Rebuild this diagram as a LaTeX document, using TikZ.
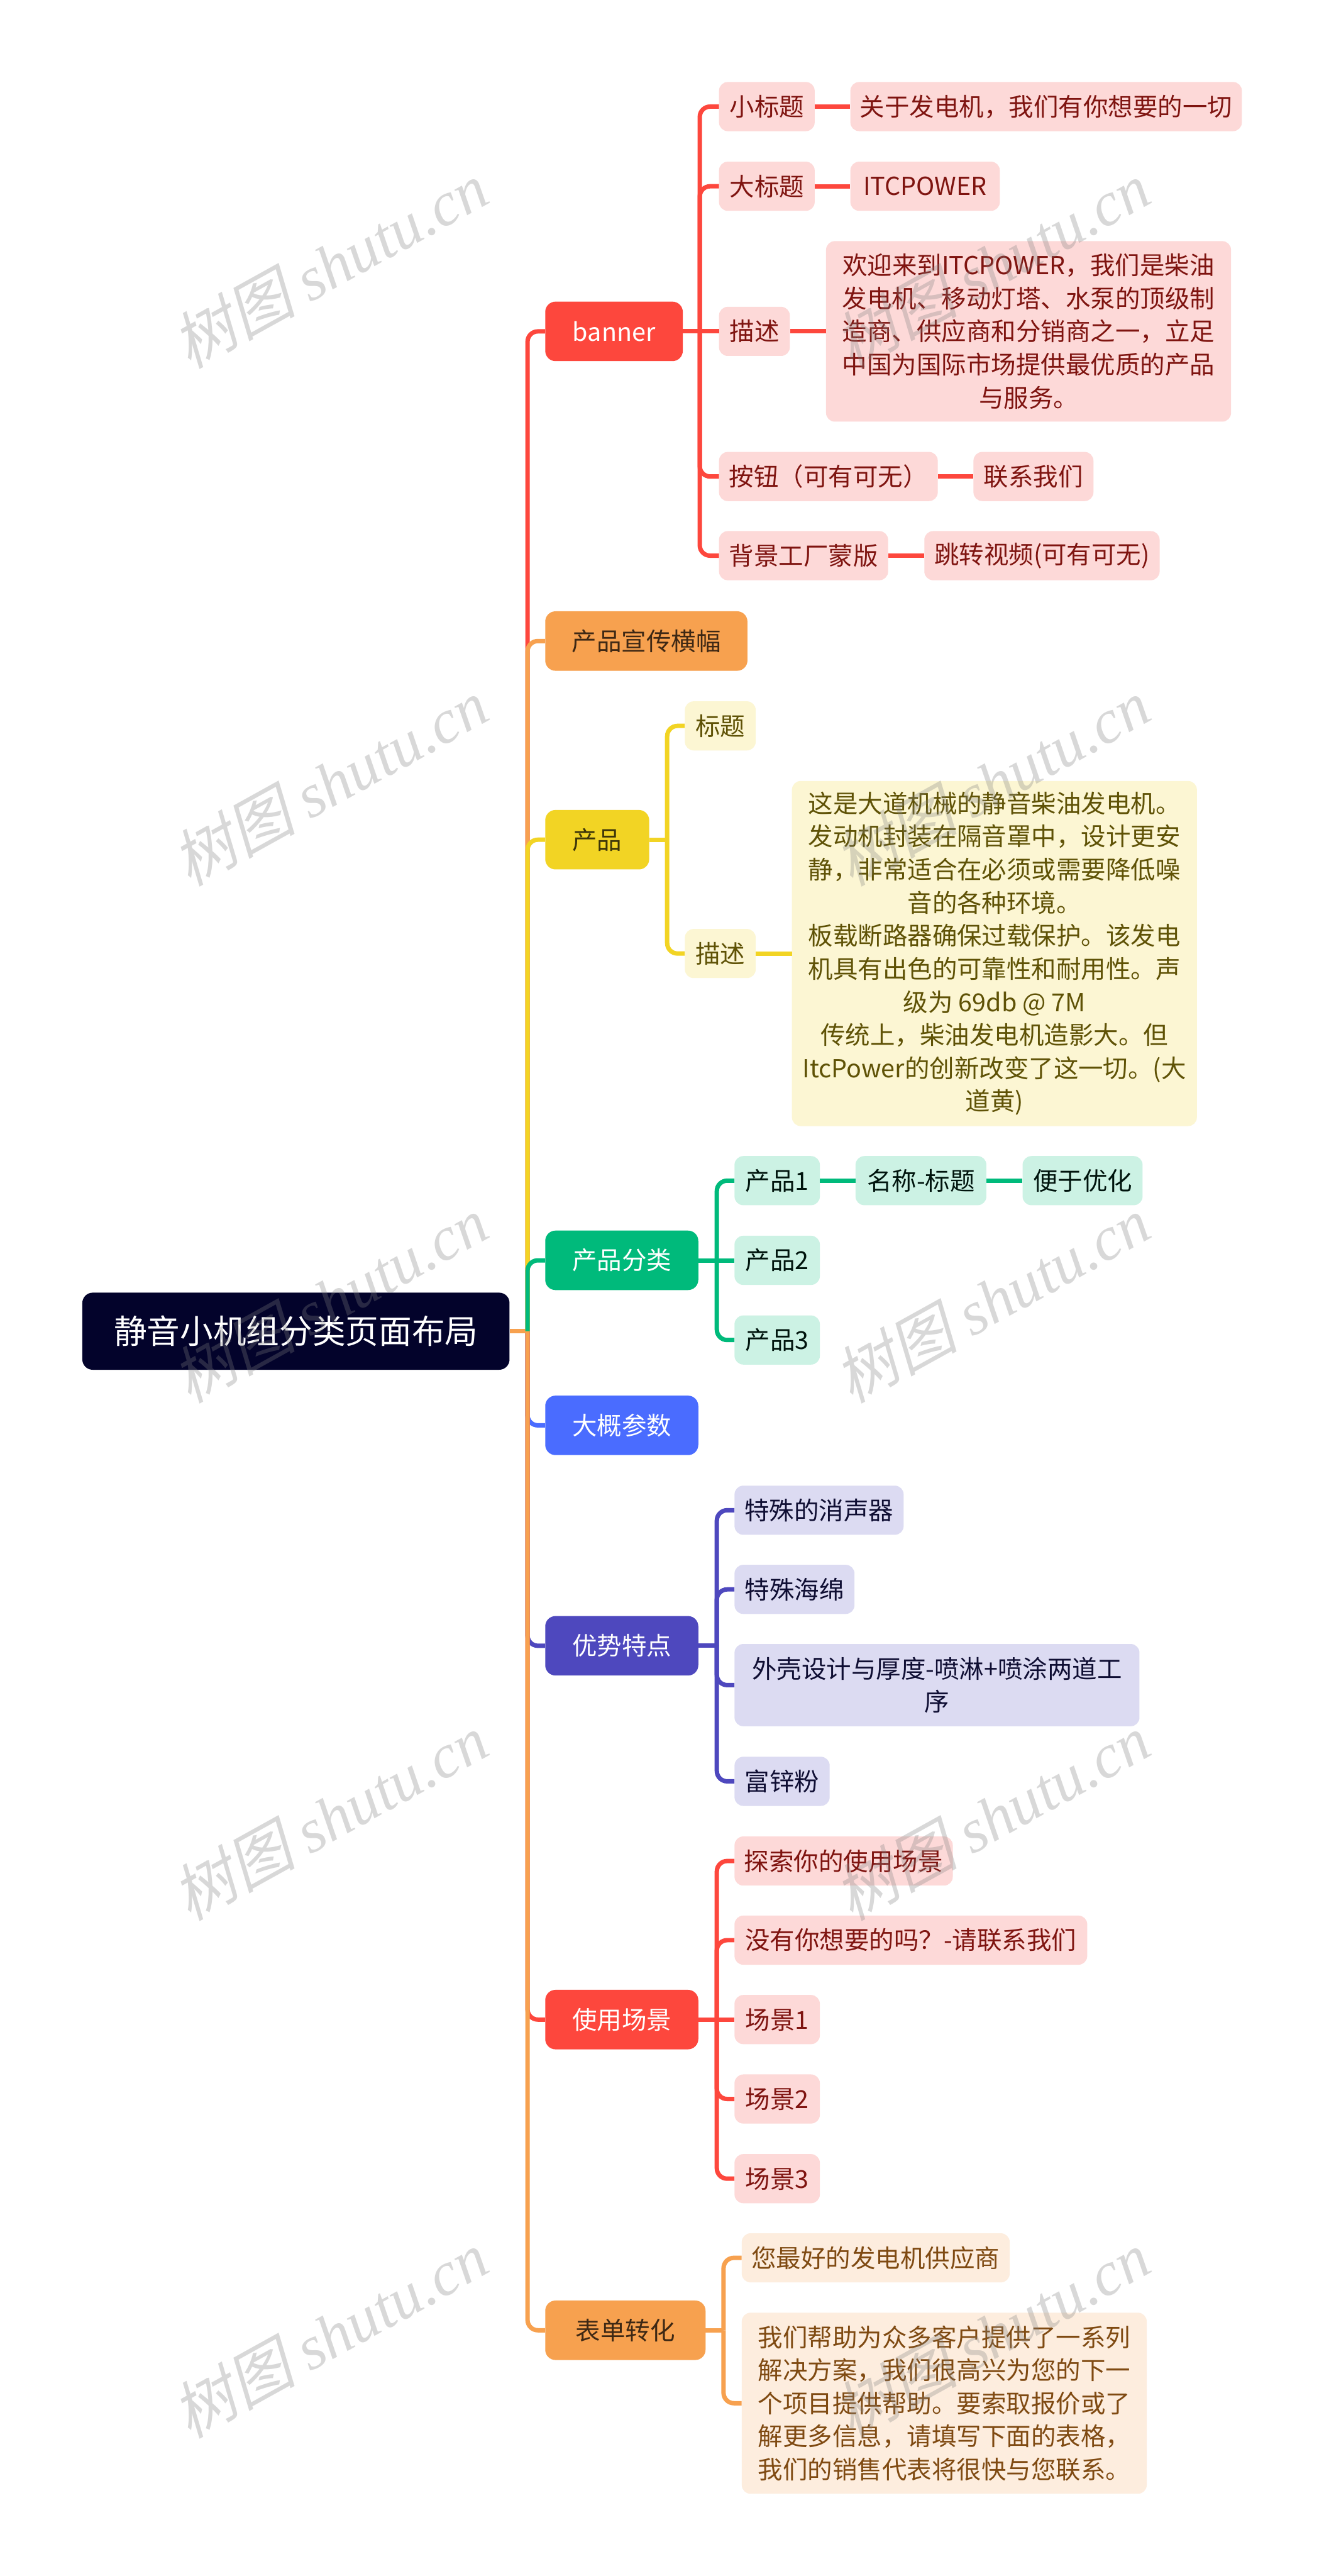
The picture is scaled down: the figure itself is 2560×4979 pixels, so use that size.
\documentclass[tikz,border=0pt]{standalone}
\usepackage{fontspec}
\setmainfont{Noto Sans CJK SC}
\newfontfamily\wmlatin{Liberation Serif}
\newfontfamily\wmcjk[FakeSlant=0.22]{Noto Sans CJK SC}
\definecolor{cred}{HTML}{FD473D}
\definecolor{cori}{HTML}{F7A14F}
\definecolor{cyel}{HTML}{F2D424}
\definecolor{cgrn}{HTML}{00BA7B}
\definecolor{cblu}{HTML}{4A6CFF}
\definecolor{cind}{HTML}{4E48BE}
\definecolor{lred}{HTML}{FDD9D8}
\definecolor{lyel}{HTML}{FCF6D3}
\definecolor{lgrn}{HTML}{CCF2E4}
\definecolor{lind}{HTML}{DCDBF2}
\definecolor{lori}{HTML}{FDEDDE}
\definecolor{tred}{HTML}{7F1410}
\definecolor{tyel}{HTML}{5F5206}
\definecolor{tgrn}{HTML}{00140D}
\definecolor{tind}{HTML}{0F0E33}
\definecolor{tori}{HTML}{7F4A12}
\definecolor{croot}{HTML}{03032B}
\tikzset{
  base/.style={anchor=west,inner sep=0pt,font=\fontsize{48}{64}\selectfont,align=center},
  rootbox/.style={base,fill=croot,text=white,rounded corners=20pt,font=\fontsize{64}{84}\selectfont},
  prim/.style={base,rounded corners=20pt,minimum height=115},
  redsec/.style={base,fill=lred,text=tred,rounded corners=17pt},
  yelsec/.style={base,fill=lyel,text=tyel,rounded corners=17pt},
  grnsec/.style={base,fill=lgrn,text=tgrn,rounded corners=17pt},
  indsec/.style={base,fill=lind,text=tind,rounded corners=17pt},
  orisec/.style={base,fill=lori,text=tori,rounded corners=17pt},
  conn/.style={line width=8.5pt,rounded corners=20pt,line cap=butt},
  wmark/.style={text=gray,text opacity=0.3,rotate=29,inner sep=0pt}
}
\begin{document}
\begin{tikzpicture}[x=1pt,y=-1pt]
\fill[white] (0,0) rectangle (2560,4979);
\useasboundingbox (0,0) rectangle (2560,4979);
% root
\node[rootbox,minimum width=826,minimum height=149] (root) at (159,2573) {静音小机组分类页面布局};
% primary
\node[prim,fill=cred,text=white,minimum width=266] (banner) at (1054,640.5) {banner};
\node[prim,fill=cori,text=black!75!cori,minimum width=391] (promo) at (1054,1239) {产品宣传横幅};
\node[prim,fill=cyel,text=black!75!cyel,minimum width=201] (prod) at (1054,1623) {产品};
\node[prim,fill=cgrn,text=white,minimum width=296] (cat) at (1054,2436) {产品分类};
\node[prim,fill=cblu,text=white,minimum width=296] (param) at (1054,2755) {大概参数};
\node[prim,fill=cind,text=white,minimum width=296] (feat) at (1054,3181) {优势特点};
\node[prim,fill=cred,text=white,minimum width=296] (scene) at (1054,3903.5) {使用场景};
\node[prim,fill=cori,text=black!75!cori,minimum width=310] (form) at (1054,4504) {表单转化};
% banner children
\node[redsec,minimum width=185,minimum height=95] (b1) at (1390,206) {小标题};
\node[redsec,minimum width=757,minimum height=95] (b1a) at (1644,206) {关于发电机，我们有你想要的一切};
\node[redsec,minimum width=185,minimum height=95] (b2) at (1390,360) {大标题};
\node[redsec,minimum width=289,minimum height=95] (b2a) at (1644,360) {ITCPOWER};
\node[redsec,minimum width=137,minimum height=95] (b3) at (1390,640.5) {描述};
\node[redsec,minimum width=783,minimum height=349] (b3a) at (1597,640.5) {欢迎来到ITCPOWER，我们是柴油\\发电机、移动灯塔、水泵的顶级制\\造商、供应商和分销商之一，立足\\中国为国际市场提供最优质的产品\\与服务。};
\node[redsec,minimum width=423,minimum height=95] (b4) at (1390,921) {按钮（可有可无）};
\node[redsec,minimum width=232,minimum height=95] (b4a) at (1882,921) {联系我们};
\node[redsec,minimum width=327,minimum height=95] (b5) at (1390,1074) {背景工厂蒙版};
\node[redsec,minimum width=455,minimum height=95] (b5a) at (1787,1074) {跳转视频(可有可无)};
% product children
\node[yelsec,minimum width=137,minimum height=95] (p1) at (1324,1403) {标题};
\node[yelsec,minimum width=137,minimum height=95] (p2) at (1324,1843) {描述};
\node[yelsec,minimum width=783,minimum height=667] (p2a) at (1531,1843) {这是大道机械的静音柴油发电机。\\发动机封装在隔音罩中，设计更安\\静，非常适合在必须或需要降低噪\\音的各种环境。\\板载断路器确保过载保护。该发电\\机具有出色的可靠性和耐用性。声\\级为 69db @ 7M\\传统上，柴油发电机造影大。但\\ItcPower的创新改变了这一切。(大\\道黄)};
% category children
\node[grnsec,minimum width=165,minimum height=95] (c1) at (1420,2282) {产品1};
\node[grnsec,minimum width=253,minimum height=95] (c1a) at (1654,2282) {名称-标题};
\node[grnsec,minimum width=232,minimum height=95] (c1b) at (1977,2282) {便于优化};
\node[grnsec,minimum width=165,minimum height=95] (c2) at (1420,2436) {产品2};
\node[grnsec,minimum width=165,minimum height=95] (c3) at (1420,2590) {产品3};
% feature children
\node[indsec,minimum width=327,minimum height=95] (f1) at (1420,2919) {特殊的消声器};
\node[indsec,minimum width=232,minimum height=95] (f2) at (1420,3072) {特殊海绵};
\node[indsec,minimum width=783,minimum height=159] (f3) at (1420,3257) {外壳设计与厚度-喷淋+喷涂两道工\\序};
\node[indsec,minimum width=184,minimum height=95] (f4) at (1420,3443) {富锌粉};
% scene children
\node[redsec,minimum width=422,minimum height=95] (s1) at (1420,3597) {探索你的使用场景};
\node[redsec,minimum width=682,minimum height=95] (s2) at (1420,3750) {没有你想要的吗？-请联系我们};
\node[redsec,minimum width=165,minimum height=95] (s3) at (1420,3903.5) {场景1};
\node[redsec,minimum width=165,minimum height=95] (s4) at (1420,4057) {场景2};
\node[redsec,minimum width=165,minimum height=95] (s5) at (1420,4211) {场景3};
% form children
\node[orisec,minimum width=518,minimum height=95] (o1) at (1434,4364) {您最好的发电机供应商};
\node[orisec,minimum width=783,minimum height=350,align=left] (o2) at (1434,4645) {我们帮助为众多客户提供了一系列\\解决方案，我们很高兴为您的下一\\个项目提供帮助。要索取报价或了\\解更多信息，请填写下面的表格，\\我们的销售代表将很快与您联系。};
% junctions
\coordinate (tr) at (1020,2573);
\coordinate (bb) at (1353,640.5);
\coordinate (bp) at (1290,1623);
\coordinate (bc) at (1386,2436);
\coordinate (bf) at (1386,3181);
\coordinate (bs) at (1386,3903.5);
\coordinate (bo) at (1399,4504);
% trunk, lower branches first
\draw[conn,cblu] (tr) |- (param.west);
\draw[conn,cind] (tr) |- (feat.west);
\draw[conn,cred] (tr) |- (scene.west);
\draw[conn,cori] (root.east) -- (tr);
\draw[conn,cori] (tr) |- (form.west);
\draw[conn,cred] (tr) |- (banner.west);
\draw[conn,cori] (tr) |- (promo.west);
\draw[conn,cyel] (tr) |- (prod.west);
\draw[conn,cgrn] (tr) |- (cat.west);
% banner
\draw[conn,cred] (banner.east) -- (b3.west);
\draw[conn,cred] (bb) |- (b1.west);
\draw[conn,cred] (bb) |- (b2.west);
\draw[conn,cred] (bb) |- (b4.west);
\draw[conn,cred] (bb) |- (b5.west);
\draw[conn,cred] (b1.east) -- (b1a.west);
\draw[conn,cred] (b2.east) -- (b2a.west);
\draw[conn,cred] (b3.east) -- (b3a.west);
\draw[conn,cred] (b4.east) -- (b4a.west);
\draw[conn,cred] (b5.east) -- (b5a.west);
% product
\draw[conn,cyel] (prod.east) -- (bp);
\draw[conn,cyel] (bp) |- (p1.west);
\draw[conn,cyel] (bp) |- (p2.west);
\draw[conn,cyel] (p2.east) -- (p2a.west);
% category
\draw[conn,cgrn] (cat.east) -- (c2.west);
\draw[conn,cgrn] (bc) |- (c1.west);
\draw[conn,cgrn] (bc) |- (c3.west);
\draw[conn,cgrn] (c1.east) -- (c1a.west);
\draw[conn,cgrn] (c1a.east) -- (c1b.west);
% features
\draw[conn,cind] (feat.east) -- (bf);
\draw[conn,cind] (bf) |- (f1.west);
\draw[conn,cind] (bf) |- (f2.west);
\draw[conn,cind] (bf) |- (f3.west);
\draw[conn,cind] (bf) |- (f4.west);
% scenes
\draw[conn,cred] (scene.east) -- (s3.west);
\draw[conn,cred] (bs) |- (s1.west);
\draw[conn,cred] (bs) |- (s2.west);
\draw[conn,cred] (bs) |- (s4.west);
\draw[conn,cred] (bs) |- (s5.west);
% form
\draw[conn,cori] (form.east) -- (bo);
\draw[conn,cori] (bo) |- (o1.west);
\draw[conn,cori] (bo) |- (o2.west);
% watermarks
\foreach \r in {0,1,2,3,4}{
  \node[wmark] (wml\r) at (637,512+1000*\r) {\fontsize{120}{120}\selectfont\wmcjk 树图 \wmlatin\itshape shutu.cn};
  \node[wmark] (wmr\r) at (1917,512+1000*\r) {\fontsize{120}{120}\selectfont\wmcjk 树图 \wmlatin\itshape shutu.cn};
}
\end{tikzpicture}
\end{document}
